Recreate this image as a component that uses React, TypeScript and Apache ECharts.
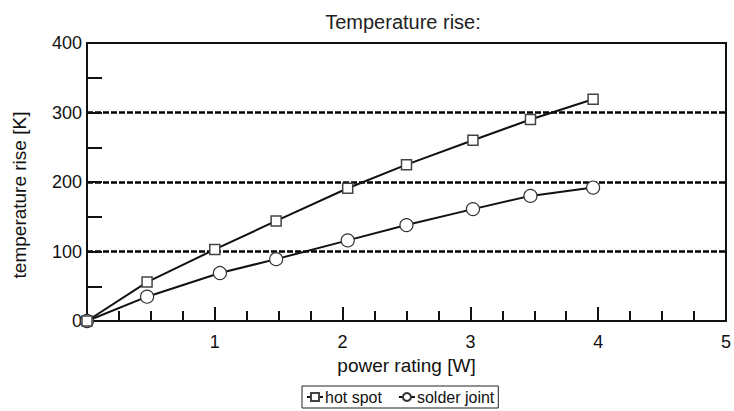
import React, { useEffect, useRef } from "react";
import * as echarts from "echarts";

const titleText = "Temperature rise:";
const xName = "power rating [W]";
const yName = "temperature rise [K]";
const hotSpotX = [0, 0.47, 1.0, 1.48, 2.04, 2.5, 3.02, 3.47, 3.96];
const hotSpotY = [0, 56, 103, 144, 191, 225, 260, 290, 319];
const solderX = [0, 0.47, 1.04, 1.48, 2.04, 2.5, 3.02, 3.47, 3.96];
const solderY = [0, 35, 69, 89, 116, 138, 161, 180, 192];
const seriesNames = ["hot spot", "solder joint"];

const FONT = "'Liberation Sans', Arial, sans-serif";

export default function App() {
  const ref = useRef<HTMLDivElement>(null);
  useEffect(() => {
    if (!ref.current) return;
    const chart = echarts.init(ref.current, null, { renderer: "svg" });
    const toPairs = (xs: number[], ys: number[]) => xs.map((x, i) => [x, ys[i]]);
    chart.setOption({
      animation: false,
      backgroundColor: "#fff",
      textStyle: { fontFamily: FONT, color: "#111" },
      grid: {
        left: 87,
        right: 3,
        top: 43,
        bottom: 90,
        show: true,
        borderColor: "#111",
        borderWidth: 2,
        containLabel: false,
      },
      graphic: [
        {
          type: "text",
          x: 403,
          y: 12,
          style: {
            text: titleText,
            font: `20px ${FONT}`,
            fill: "#222",
            textAlign: "center",
            textVerticalAlign: "top",
          },
        },
        {
          type: "text",
          x: 19,
          y: 195,
          rotation: Math.PI / 2,
          style: {
            text: yName,
            font: `19px ${FONT}`,
            fill: "#111",
            textAlign: "center",
            textVerticalAlign: "middle",
          },
        },
      ],
      legend: {
        left: 302,
        top: 386,
        data: seriesNames,
        itemWidth: 16,
        itemHeight: 10,
        itemGap: 16,
        padding: [3, 4],
        borderColor: "#222",
        borderWidth: 1,
        textStyle: { fontFamily: FONT, fontSize: 16, color: "#111", padding: [0, 0, 0, -3] },
      },
      xAxis: {
        type: "value",
        min: 0,
        max: 5,
        interval: 1,
        name: xName,
        nameLocation: "middle",
        nameGap: 31,
        nameTextStyle: { fontFamily: FONT, fontSize: 19, color: "#111" },
        axisLine: { show: true, lineStyle: { color: "#111", width: 2 } },
        axisTick: { show: true, inside: true, length: 14, lineStyle: { color: "#111", width: 2 } },
        minorTick: { show: true, splitNumber: 4, length: 10, lineStyle: { color: "#111", width: 2 } },
        axisLabel: {
          fontFamily: FONT,
          fontSize: 18,
          color: "#111",
          margin: 12,
          formatter: (v: number) => (v === 0 ? "" : String(v)),
        },
        splitLine: { show: false },
      },
      yAxis: {
        type: "value",
        min: 0,
        max: 400,
        interval: 100,
        axisLine: { show: true, lineStyle: { color: "#111", width: 2 } },
        axisTick: { show: true, inside: true, length: 15, lineStyle: { color: "#111", width: 2 } },
        minorTick: { show: true, splitNumber: 2, length: 15, lineStyle: { color: "#111", width: 2 } },
        axisLabel: { fontFamily: FONT, fontSize: 18, color: "#111", margin: 5 },
        splitLine: {
          show: true,
          showMinLine: false,
          showMaxLine: false,
          lineStyle: { color: "#000", width: 2.5, type: [6, 2] },
        },
      },
      series: [
        {
          name: seriesNames[0],
          type: "line",
          data: toPairs(hotSpotX, hotSpotY),
          symbol: "rect",
          symbolSize: 10,
          showAllSymbol: true,
          lineStyle: { color: "#111", width: 2 },
          itemStyle: { color: "#fff", borderColor: "#444", borderWidth: 1.5 },
          z: 3,
        },
        {
          name: seriesNames[1],
          type: "line",
          data: toPairs(solderX, solderY),
          symbol: "circle",
          symbolSize: 13,
          showAllSymbol: true,
          lineStyle: { color: "#111", width: 2 },
          itemStyle: { color: "#fff", borderColor: "#333", borderWidth: 1.2 },
          z: 2,
        },
      ],
    });
    return () => chart.dispose();
  }, []);
  return (
    <div
      ref={ref}
      style={{ position: "fixed", left: 0, top: 0, width: 734, height: 411, background: "#fff" }}
    />
  );
}
